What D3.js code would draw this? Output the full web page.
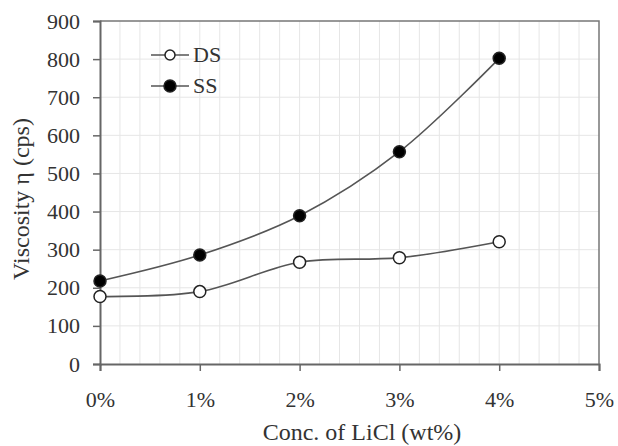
<!DOCTYPE html>
<html>
<head>
<meta charset="utf-8">
<script src="https://cdn.jsdelivr.net/npm/d3@7"></script>
<style>
  body { margin: 0; background: #fff; }
  text { font-family: "Liberation Serif", "Times New Roman", serif; fill: #333; }
</style>
</head>
<body>
<svg width="618" height="446"></svg>
<script>
// data
var conc = [0, 1, 2, 3, 4];           // LiCl, wt%
var dsVals = [177, 190, 267, 279, 321];
var ssVals = [218, 286, 389, 557, 802];
var xTicks = [0, 1, 2, 3, 4, 5];
var yTicks = [0, 100, 200, 300, 400, 500, 600, 700, 800, 900];

const svg = d3.select("svg");
var margin = { left: 100, right: 19, top: 21, bottom: 82 };
var width = +svg.attr("width");
var height = +svg.attr("height");

var x = d3.scaleLinear().domain([0, 5]).range([margin.left, width - margin.right]);
var y = d3.scaleLinear().domain([0, 900]).range([height - margin.bottom, margin.top]);

// grid
var grid = svg.append("g").attr("stroke", "#e6e6e6").attr("stroke-width", 1);
grid.selectAll(".vx")
  .data(d3.range(1, 25).map(function (i) { return i * 0.2; }))
  .join("line")
  .attr("x1", function (d) { return x(d); })
  .attr("x2", function (d) { return x(d); })
  .attr("y1", y(0))
  .attr("y2", y(900));
grid.selectAll(".hy")
  .data(yTicks.slice(1, -1))
  .join("line")
  .attr("x1", x(0))
  .attr("x2", x(5))
  .attr("y1", function (d) { return y(d); })
  .attr("y2", function (d) { return y(d); });

// frame top + right
svg.append("path")
  .attr("d", "M" + x(0) + "," + y(900) + "H" + x(5) + "V" + y(0))
  .attr("fill", "none")
  .attr("stroke", "#777")
  .attr("stroke-width", 1.5);

// axes
var xAxis = d3.axisBottom(x).tickValues(xTicks).tickSize(7).tickPadding(20)
  .tickFormat(function (d) { return d + "%"; });
var yAxis = d3.axisLeft(y).tickValues(yTicks).tickSize(7).tickPadding(13);

var gx = svg.append("g").attr("transform", "translate(0," + y(0) + ")").call(xAxis);
var gy = svg.append("g").attr("transform", "translate(" + x(0) + ",0)").call(yAxis);
[gx, gy].forEach(function (g) {
  g.attr("font-size", null).attr("font-family", null);
  g.select(".domain").attr("stroke", "#666").attr("stroke-width", 2);
  g.selectAll(".tick line").attr("stroke", "#666").attr("stroke-width", 1.5);
  g.selectAll(".tick text")
    .attr("font-family", "Liberation Serif, serif")
    .attr("font-size", 22).attr("fill", "#333");
});

// axis titles
svg.append("text")
  .attr("x", 362)
  .attr("y", 440)
  .attr("text-anchor", "middle")
  .attr("font-size", 24)
  .text("Conc.  of LiCl (wt%)");
svg.append("text")
  .attr("transform", "translate(29,199) rotate(-90)")
  .attr("text-anchor", "middle")
  .attr("font-size", 24)
  .text("Viscosity η (cps)");

// series
var series = [
  { name: "DS", vals: dsVals, fill: "#fff" },
  { name: "SS", vals: ssVals, fill: "#000" }
];

var line = d3.line()
  .x(function (d, i) { return x(conc[i]); })
  .y(function (d) { return y(d); })
  .curve(d3.curveCatmullRom.alpha(0.5));

series.forEach(function (s) {
  svg.append("path")
    .attr("d", line(s.vals))
    .attr("fill", "none")
    .attr("stroke", "#555")
    .attr("stroke-width", 1.6);
  svg.selectAll(null)
    .data(s.vals)
    .join("circle")
    .attr("cx", function (d, i) { return x(conc[i]); })
    .attr("cy", function (d) { return y(d); })
    .attr("r", 6)
    .attr("fill", s.fill)
    .attr("stroke", "#222")
    .attr("stroke-width", 1.5);
});

// legend
var legend = svg.append("g");
series.forEach(function (s, i) {
  var ly = 55 + i * 31;
  legend.append("line")
    .attr("x1", 151).attr("x2", 189)
    .attr("y1", ly).attr("y2", ly)
    .attr("stroke", "#555").attr("stroke-width", 1.6);
  legend.append("circle")
    .attr("cx", 170).attr("cy", ly).attr("r", s.fill === "#fff" ? 5 : 6)
    .attr("fill", s.fill).attr("stroke", "#222").attr("stroke-width", 1.5);
  legend.append("text")
    .attr("x", 193).attr("y", ly + 7)
    .attr("font-size", 22)
    .text(s.name);
});
</script>
</body>
</html>
